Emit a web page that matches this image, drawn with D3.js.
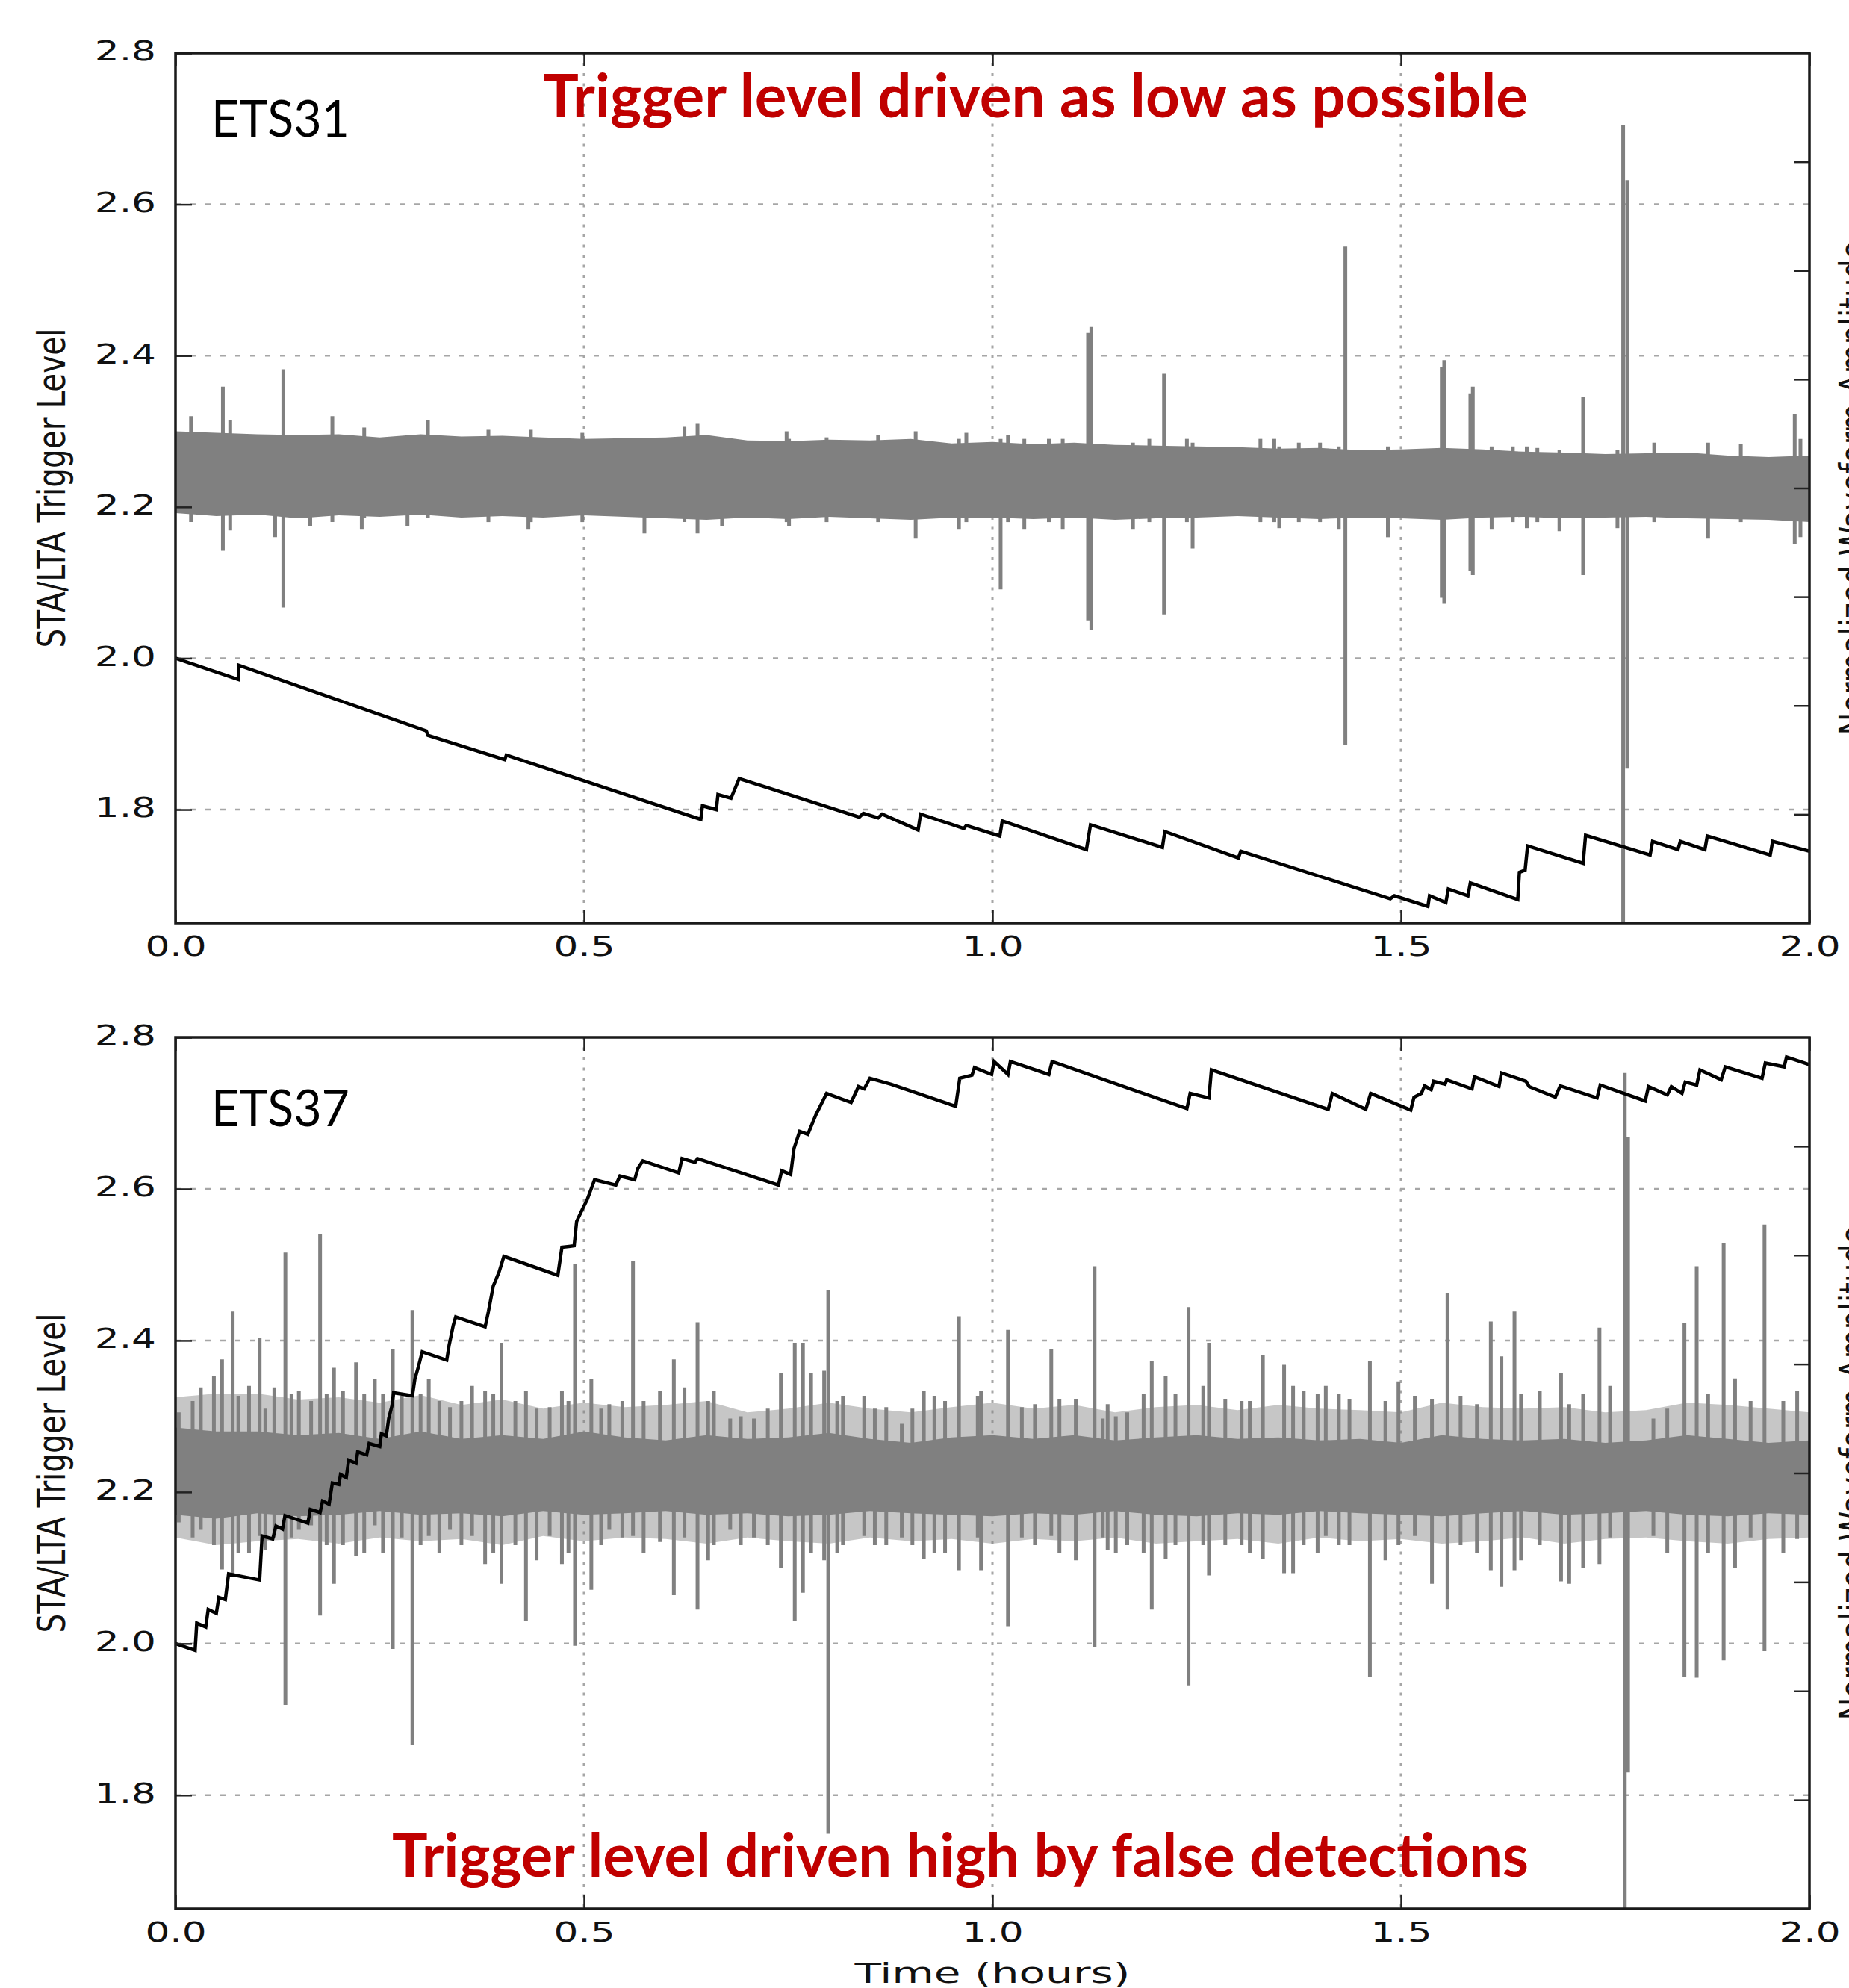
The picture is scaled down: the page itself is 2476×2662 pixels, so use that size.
<!DOCTYPE html>
<html>
<head>
<meta charset="utf-8">
<style>
  body { margin: 0; background: #fff; }
  svg { display: block; background: #fff; }
  .tick text { font-family: "DejaVu Sans", sans-serif; font-size: 38px; fill: #111; }
  .tick line { stroke: #222; stroke-width: 2.5; }
  .grid-h { stroke: #a6a6a6; stroke-width: 2.5; stroke-dasharray: 7 13; }
  .grid-v { stroke: #a6a6a6; stroke-width: 3; stroke-dasharray: 4 9.5; }
  .frame { fill: none; stroke: #1a1a1a; stroke-width: 3.5; }
  .wave { fill: #808080; }
  .fuzz { fill: #808080; fill-opacity: 0.45; }
  .spike { stroke: #808080; stroke-width: 5; }
  .trigger { fill: none; stroke: #000; stroke-width: 4.5; stroke-linejoin: miter; }
  .note { font-family: Lato, "Open Sans", sans-serif; font-weight: bold; fill: #c00000; font-size: 80px; }
  .station { font-family: Lato, "Open Sans", sans-serif; font-size: 68px; fill: #000; }
  .axlabel { font-family: "DejaVu Sans", sans-serif; font-size: 38px; fill: #111; }
</style>
</head>
<body>
<svg width="2476" height="2662"></svg>
<script src="https://d3js.org/d3.v7.min.js"></script>
<script>

// axis ticks
var xTicks = [0.0, 0.5, 1.0, 1.5, 2.0];
var yTicks = [1.8, 2.0, 2.2, 2.4, 2.6, 2.8];
var ampTicks = [-0.75, -0.5, -0.25, 0, 0.25, 0.5, 0.75];

// times where the waveform envelope was read (hours)
var bandTime = [0, 0.05, 0.1, 0.15, 0.2, 0.25, 0.3, 0.35, 0.4, 0.45, 0.5, 0.55, 0.6, 0.65, 0.7, 0.75, 0.8,
  0.85, 0.9, 0.95, 1.0, 1.05, 1.1, 1.15, 1.2, 1.25, 1.3, 1.35, 1.4, 1.45, 1.5, 1.55, 1.6, 1.65, 1.7,
  1.75, 1.8, 1.85, 1.9, 1.95, 2.0];

// ETS31 waveform envelope (upper / lower edge of the solid noise band)
var ets31Hi = [2.300, 2.298, 2.296, 2.295, 2.296, 2.292, 2.296, 2.293, 2.294, 2.292, 2.290, 2.291, 2.292,
  2.295, 2.288, 2.287, 2.289, 2.288, 2.290, 2.284, 2.286, 2.283, 2.285, 2.282, 2.281, 2.280, 2.279, 2.277,
  2.278, 2.275, 2.276, 2.278, 2.276, 2.273, 2.272, 2.270, 2.271, 2.272, 2.268, 2.266, 2.268];
var ets31Lo = [2.192, 2.188, 2.190, 2.185, 2.189, 2.187, 2.190, 2.186, 2.188, 2.186, 2.189, 2.187, 2.185,
  2.183, 2.186, 2.184, 2.187, 2.185, 2.183, 2.186, 2.186, 2.184, 2.186, 2.183, 2.185, 2.186, 2.188, 2.186,
  2.184, 2.186, 2.185, 2.183, 2.186, 2.187, 2.185, 2.186, 2.187, 2.185, 2.184, 2.183, 2.180];

// ETS31 spikes: [time, top, bottom]
var ets31Spikes = [
  [0.019, 2.320, 2.180], [0.058, 2.359, 2.142], [0.067, 2.315, 2.169], [0.122, 2.290, 2.160],
  [0.132, 2.382, 2.067], [0.165, 2.295, 2.175], [0.192, 2.320, 2.180], [0.228, 2.290, 2.170],
  [0.231, 2.305, 2.185], [0.284, 2.290, 2.175], [0.309, 2.315, 2.185], [0.383, 2.302, 2.180],
  [0.432, 2.290, 2.170], [0.435, 2.302, 2.180], [0.498, 2.298, 2.180], [0.574, 2.290, 2.165],
  [0.623, 2.306, 2.180], [0.639, 2.310, 2.165], [0.669, 2.290, 2.175], [0.748, 2.300, 2.180],
  [0.751, 2.290, 2.175], [0.797, 2.292, 2.180], [0.860, 2.295, 2.180], [0.906, 2.300, 2.158],
  [0.959, 2.290, 2.170], [0.968, 2.298, 2.180], [1.010, 2.290, 2.091], [1.019, 2.295, 2.180],
  [1.039, 2.290, 2.170], [1.069, 2.290, 2.180], [1.086, 2.290, 2.170], [1.117, 2.430, 2.050],
  [1.121, 2.438, 2.037], [1.172, 2.285, 2.170], [1.192, 2.290, 2.180], [1.210, 2.376, 2.058],
  [1.238, 2.290, 2.180], [1.245, 2.285, 2.145], [1.328, 2.290, 2.180], [1.345, 2.290, 2.180],
  [1.351, 2.280, 2.172], [1.375, 2.285, 2.180], [1.401, 2.285, 2.180], [1.424, 2.280, 2.170],
  [1.432, 2.544, 1.885], [1.484, 2.280, 2.160], [1.550, 2.385, 2.080], [1.553, 2.394, 2.072],
  [1.585, 2.350, 2.115], [1.588, 2.359, 2.110], [1.611, 2.280, 2.170], [1.637, 2.280, 2.180],
  [1.654, 2.280, 2.172], [1.667, 2.278, 2.180], [1.694, 2.275, 2.168], [1.723, 2.345, 2.110],
  [1.765, 2.275, 2.172], [1.772, 2.705, 1.650], [1.777, 2.632, 1.854], [1.810, 2.285, 2.180],
  [1.876, 2.285, 2.158], [1.916, 2.283, 2.180], [1.982, 2.323, 2.151], [1.989, 2.290, 2.160]
];

// ETS31 STA/LTA trigger level: [time, level]
var ets31Trigger = [
  [0, 2.000], [0.077, 1.972], [0.077, 1.991], [0.307, 1.904], [0.309, 1.898], [0.403, 1.866],
  [0.405, 1.872], [0.643, 1.787], [0.645, 1.805], [0.662, 1.800], [0.664, 1.820], [0.680, 1.815],
  [0.690, 1.841], [0.837, 1.790], [0.842, 1.795], [0.860, 1.789], [0.865, 1.794], [0.909, 1.773],
  [0.912, 1.794], [0.965, 1.775], [0.968, 1.779], [1.009, 1.765], [1.012, 1.785], [1.115, 1.747],
  [1.120, 1.780], [1.208, 1.750], [1.211, 1.771], [1.301, 1.736], [1.304, 1.745], [1.487, 1.682],
  [1.492, 1.686], [1.533, 1.672], [1.535, 1.686], [1.555, 1.677], [1.558, 1.695], [1.582, 1.686],
  [1.585, 1.703], [1.643, 1.681], [1.645, 1.717], [1.652, 1.720], [1.655, 1.752], [1.723, 1.729],
  [1.726, 1.766], [1.805, 1.740], [1.808, 1.758], [1.839, 1.747], [1.842, 1.758], [1.872, 1.747],
  [1.875, 1.765], [1.952, 1.740], [1.955, 1.758], [2.0, 1.745]
];

// ETS37 waveform envelope (solid core)
var ets37Hi = [2.285, 2.280, 2.280, 2.275, 2.278, 2.270, 2.280, 2.270, 2.275, 2.270, 2.280, 2.272, 2.268,
  2.275, 2.270, 2.272, 2.278, 2.270, 2.265, 2.272, 2.275, 2.270, 2.275, 2.268, 2.272, 2.275, 2.270, 2.272,
  2.268, 2.270, 2.265, 2.275, 2.270, 2.268, 2.270, 2.265, 2.268, 2.275, 2.270, 2.265, 2.268];
var ets37Lo = [2.170, 2.165, 2.172, 2.168, 2.170, 2.175, 2.170, 2.172, 2.168, 2.175, 2.170, 2.172, 2.175,
  2.170, 2.172, 2.168, 2.170, 2.175, 2.172, 2.170, 2.168, 2.172, 2.170, 2.175, 2.170, 2.168, 2.172, 2.170,
  2.175, 2.172, 2.170, 2.168, 2.172, 2.175, 2.170, 2.172, 2.175, 2.170, 2.168, 2.172, 2.170];
// ETS37 dense fringe of small detections around the core
var ets37FuzzHi = [2.325, 2.330, 2.330, 2.322, 2.325, 2.318, 2.328, 2.315, 2.322, 2.310, 2.318, 2.312, 2.315,
  2.320, 2.305, 2.310, 2.318, 2.310, 2.305, 2.312, 2.318, 2.310, 2.315, 2.305, 2.312, 2.315, 2.308, 2.315,
  2.310, 2.308, 2.305, 2.318, 2.312, 2.310, 2.312, 2.305, 2.308, 2.318, 2.315, 2.310, 2.305];
var ets37FuzzLo = [2.140, 2.130, 2.135, 2.138, 2.132, 2.140, 2.135, 2.138, 2.130, 2.142, 2.135, 2.140, 2.138,
  2.132, 2.140, 2.135, 2.132, 2.140, 2.135, 2.138, 2.132, 2.138, 2.135, 2.140, 2.132, 2.135, 2.138, 2.132,
  2.140, 2.135, 2.138, 2.132, 2.135, 2.140, 2.132, 2.138, 2.140, 2.135, 2.132, 2.138, 2.140];

// ETS37 spikes: [time, top, bottom]
var ets37Spikes = [
  [0.004, 2.305, 2.160], [0.021, 2.320, 2.140], [0.031, 2.338, 2.150], [0.047, 2.353, 2.130],
  [0.057, 2.375, 2.098], [0.070, 2.438, 2.090], [0.077, 2.327, 2.119], [0.090, 2.340, 2.120],
  [0.103, 2.403, 2.142], [0.110, 2.310, 2.123], [0.121, 2.338, 2.140], [0.1345, 2.516, 1.919],
  [0.142, 2.330, 2.140], [0.151, 2.334, 2.150], [0.166, 2.320, 2.156], [0.177, 2.540, 2.037],
  [0.185, 2.330, 2.130], [0.194, 2.364, 2.079], [0.205, 2.334, 2.130], [0.221, 2.371, 2.116],
  [0.231, 2.330, 2.120], [0.244, 2.349, 2.156], [0.254, 2.330, 2.120], [0.266, 2.388, 1.993],
  [0.277, 2.327, 2.140], [0.290, 2.440, 1.866], [0.300, 2.330, 2.130], [0.310, 2.349, 2.142],
  [0.323, 2.320, 2.120], [0.336, 2.312, 2.150], [0.350, 2.320, 2.130], [0.363, 2.340, 2.142],
  [0.379, 2.334, 2.105], [0.389, 2.330, 2.120], [0.399, 2.397, 2.079], [0.416, 2.320, 2.130],
  [0.429, 2.334, 2.030], [0.442, 2.310, 2.110], [0.458, 2.312, 2.142], [0.473, 2.334, 2.105],
  [0.481, 2.320, 2.120], [0.489, 2.501, 1.997], [0.509, 2.349, 2.071], [0.521, 2.310, 2.130],
  [0.531, 2.316, 2.150], [0.547, 2.320, 2.140], [0.560, 2.505, 2.142], [0.573, 2.320, 2.120],
  [0.593, 2.334, 2.134], [0.610, 2.375, 2.064], [0.623, 2.338, 2.140], [0.639, 2.424, 2.045],
  [0.652, 2.320, 2.110], [0.659, 2.334, 2.130], [0.679, 2.297, 2.150], [0.692, 2.300, 2.130],
  [0.708, 2.297, 2.140], [0.725, 2.310, 2.130], [0.741, 2.357, 2.100], [0.758, 2.397, 2.030],
  [0.768, 2.397, 2.067], [0.778, 2.357, 2.120], [0.794, 2.360, 2.110], [0.799, 2.466, 1.749],
  [0.810, 2.320, 2.120], [0.817, 2.327, 2.130], [0.843, 2.327, 2.142], [0.856, 2.310, 2.130],
  [0.870, 2.312, 2.130], [0.889, 2.290, 2.140], [0.902, 2.310, 2.130], [0.916, 2.334, 2.112],
  [0.929, 2.327, 2.120], [0.942, 2.320, 2.120], [0.959, 2.432, 2.097], [0.982, 2.327, 2.140],
  [0.986, 2.334, 2.097], [1.019, 2.414, 2.023], [1.036, 2.312, 2.140], [1.052, 2.316, 2.130],
  [1.072, 2.389, 2.142], [1.082, 2.323, 2.120], [1.102, 2.323, 2.110], [1.125, 2.498, 1.996],
  [1.135, 2.297, 2.140], [1.141, 2.316, 2.123], [1.151, 2.300, 2.120], [1.165, 2.305, 2.130],
  [1.185, 2.330, 2.120], [1.195, 2.373, 2.045], [1.212, 2.353, 2.112], [1.224, 2.330, 2.130],
  [1.240, 2.444, 1.945], [1.258, 2.340, 2.130], [1.265, 2.397, 2.090], [1.285, 2.323, 2.130],
  [1.305, 2.320, 2.130], [1.315, 2.320, 2.120], [1.331, 2.381, 2.112], [1.357, 2.368, 2.093],
  [1.368, 2.340, 2.093], [1.381, 2.334, 2.130], [1.398, 2.330, 2.120], [1.408, 2.340, 2.142],
  [1.424, 2.330, 2.130], [1.437, 2.323, 2.130], [1.462, 2.373, 1.956], [1.481, 2.320, 2.110],
  [1.497, 2.346, 2.130], [1.517, 2.327, 2.142], [1.538, 2.323, 2.079], [1.557, 2.462, 2.045],
  [1.573, 2.327, 2.130], [1.593, 2.316, 2.120], [1.610, 2.425, 2.097], [1.623, 2.379, 2.075],
  [1.639, 2.438, 2.097], [1.647, 2.330, 2.110], [1.670, 2.334, 2.130], [1.696, 2.357, 2.082],
  [1.706, 2.316, 2.079], [1.723, 2.330, 2.100], [1.743, 2.417, 2.105], [1.756, 2.340, 2.140],
  [1.774, 2.753, 1.650], [1.778, 2.668, 1.830], [1.809, 2.297, 2.142], [1.826, 2.310, 2.120],
  [1.847, 2.423, 1.956], [1.862, 2.498, 1.955], [1.876, 2.330, 2.120], [1.895, 2.529, 1.978],
  [1.909, 2.350, 2.100], [1.928, 2.320, 2.140], [1.945, 2.553, 1.990], [1.968, 2.320, 2.120],
  [1.985, 2.334, 2.138]
];

// ETS37 STA/LTA trigger level: [time, level]
var ets37Trigger = [
  [0, 2.000], [0.024, 1.991], [0.026, 2.027], [0.037, 2.022], [0.040, 2.045], [0.050, 2.040],
  [0.053, 2.061], [0.061, 2.058], [0.065, 2.092], [0.103, 2.084], [0.106, 2.142], [0.119, 2.138],
  [0.123, 2.155], [0.131, 2.151], [0.134, 2.169], [0.162, 2.159], [0.165, 2.177], [0.177, 2.173],
  [0.180, 2.188], [0.188, 2.184], [0.192, 2.212], [0.200, 2.210], [0.202, 2.223], [0.209, 2.219],
  [0.212, 2.242], [0.221, 2.238], [0.223, 2.253], [0.234, 2.249], [0.237, 2.264], [0.250, 2.260],
  [0.252, 2.277], [0.258, 2.274], [0.261, 2.297], [0.265, 2.314], [0.267, 2.331], [0.290, 2.327],
  [0.293, 2.349], [0.297, 2.364], [0.302, 2.385], [0.332, 2.374], [0.335, 2.394], [0.340, 2.420],
  [0.343, 2.431], [0.379, 2.418], [0.383, 2.438], [0.389, 2.472], [0.396, 2.490], [0.402, 2.511],
  [0.468, 2.486], [0.473, 2.523], [0.488, 2.525], [0.491, 2.557], [0.498, 2.573], [0.504, 2.586],
  [0.513, 2.612], [0.539, 2.605], [0.544, 2.617], [0.562, 2.612], [0.566, 2.627], [0.572, 2.637],
  [0.616, 2.621], [0.620, 2.640], [0.636, 2.635], [0.639, 2.640], [0.738, 2.605], [0.742, 2.624],
  [0.753, 2.619], [0.757, 2.653], [0.764, 2.676], [0.774, 2.672], [0.784, 2.698], [0.797, 2.726],
  [0.827, 2.714], [0.836, 2.735], [0.843, 2.732], [0.850, 2.746], [0.876, 2.738], [0.955, 2.709],
  [0.960, 2.746], [0.975, 2.750], [0.978, 2.760], [0.999, 2.751], [1.002, 2.768], [1.019, 2.751],
  [1.022, 2.768], [1.069, 2.751], [1.073, 2.768], [1.238, 2.706], [1.242, 2.726], [1.265, 2.720],
  [1.268, 2.757], [1.411, 2.705], [1.416, 2.726], [1.457, 2.705], [1.463, 2.726], [1.512, 2.704],
  [1.516, 2.721], [1.525, 2.726], [1.529, 2.736], [1.537, 2.731], [1.540, 2.742], [1.554, 2.738],
  [1.556, 2.744], [1.587, 2.732], [1.590, 2.748], [1.620, 2.735], [1.623, 2.753], [1.653, 2.742],
  [1.657, 2.735], [1.689, 2.721], [1.695, 2.736], [1.740, 2.720], [1.744, 2.737], [1.799, 2.716],
  [1.803, 2.735], [1.826, 2.724], [1.831, 2.735], [1.844, 2.726], [1.848, 2.741], [1.862, 2.737],
  [1.866, 2.757], [1.892, 2.744], [1.897, 2.761], [1.942, 2.746], [1.946, 2.766], [1.969, 2.761],
  [1.972, 2.774], [2.0, 2.764]
];

var left = 235, right = 2423;
var width = right - left;
var labelStretch = 1.36;   // the figure was stretched sideways when pasted

var svg = d3.select("svg");
var x = d3.scaleLinear().domain([0, 2]).range([0, width]);

function drawPanel(id, top, bottom, hi, lo, fuzzHi, fuzzLo, spikes, trigger) {
  var height = bottom - top;
  var y = d3.scaleLinear().domain([1.65, 2.8]).range([height, 0]);
  var amp = d3.scaleLinear().domain([-1, 1]).range([height, 0]);

  var g = svg.append("g").attr("transform", "translate(" + left + "," + top + ")");

  g.append("clipPath").attr("id", "clip" + id)
    .append("rect").attr("width", width).attr("height", height);

  // dotted grid
  g.selectAll(".grid-h").data(yTicks.filter(function(d) { return d < 2.8; }))
    .enter().append("line").attr("class", "grid-h")
    .attr("x1", 0).attr("x2", width)
    .attr("y1", function(d) { return y(d); }).attr("y2", function(d) { return y(d); });
  g.selectAll(".grid-v").data(xTicks.filter(function(d) { return d > 0 && d < 2; }))
    .enter().append("line").attr("class", "grid-v")
    .attr("y1", 0).attr("y2", height)
    .attr("x1", function(d) { return x(d); }).attr("x2", function(d) { return x(d); });

  var plot = g.append("g").attr("clip-path", "url(#clip" + id + ")");

  // waveform: fringe (if any), solid core, then the spikes
  var area = d3.area()
    .x(function(d) { return x(d.t); })
    .y0(function(d) { return y(d.lo); })
    .y1(function(d) { return y(d.hi); });
  if (fuzzHi) {
    var fringe = bandTime.map(function(t, i) { return {t: t, hi: fuzzHi[i], lo: fuzzLo[i]}; });
    plot.append("path").attr("class", "fuzz").attr("d", area(fringe));
  }
  var band = bandTime.map(function(t, i) { return {t: t, hi: hi[i], lo: lo[i]}; });
  plot.append("path").attr("class", "wave").attr("d", area(band));

  plot.selectAll(".spike").data(spikes).enter().append("line")
    .attr("class", "spike")
    .attr("x1", function(d) { return x(d[0]); }).attr("x2", function(d) { return x(d[0]); })
    .attr("y1", function(d) { return y(d[1]); }).attr("y2", function(d) { return y(d[2]); });

  // trigger level
  var line = d3.line()
    .x(function(d) { return x(d[0]); })
    .y(function(d) { return y(d[1]); });
  plot.append("path").attr("class", "trigger").attr("d", line(trigger));

  // axes, ticks pointing inwards
  var ax = g.append("g").attr("transform", "translate(0," + height + ")")
    .call(d3.axisBottom(x).tickValues(xTicks).tickSize(-18).tickSizeOuter(0).tickPadding(17)
      .tickFormat(d3.format(".1f")));
  ax.select(".domain").remove();
  ax.selectAll("text").attr("transform", "scale(" + labelStretch + ",1)");

  var axTop = g.append("g")
    .call(d3.axisTop(x).tickValues(xTicks).tickSize(-18).tickSizeOuter(0).tickFormat(""));
  axTop.select(".domain").remove();

  var ay = g.append("g")
    .call(d3.axisLeft(y).tickValues(yTicks).tickSize(-22).tickSizeOuter(0)
      .tickFormat(d3.format(".1f")));
  ay.select(".domain").remove();
  ay.selectAll("text")
    .attr("x", -26 / labelStretch).attr("dy", "0.26em")
    .attr("transform", "scale(" + labelStretch + ",1)");

  var ar = g.append("g").attr("transform", "translate(" + width + ",0)")
    .call(d3.axisRight(amp).tickValues(ampTicks).tickSize(-20).tickSizeOuter(0).tickFormat(""));
  ar.select(".domain").remove();

  g.append("rect").attr("class", "frame").attr("width", width).attr("height", height);

  // axis titles (the right one runs off the page, as in the original)
  var mid = top + height / 2;
  svg.append("text").attr("class", "axlabel")
    .attr("transform", "translate(87," + mid + ") scale(" + labelStretch + ",1) rotate(-90)")
    .attr("text-anchor", "middle").attr("textLength", 428).attr("lengthAdjust", "spacingAndGlyphs")
    .text("STA/LTA Trigger Level");
  svg.append("text").attr("class", "axlabel")
    .attr("transform", "translate(2500," + mid + ") scale(" + labelStretch + ",1) rotate(-90)")
    .attr("text-anchor", "middle").attr("textLength", 662).attr("lengthAdjust", "spacingAndGlyphs")
    .text("Normalized Waveform Amplitude");
}

drawPanel(1, 71, 1236, ets31Hi, ets31Lo, null, null, ets31Spikes, ets31Trigger);
drawPanel(2, 1389, 2556, ets37Hi, ets37Lo, ets37FuzzHi, ets37FuzzLo, ets37Spikes, ets37Trigger);

// station names
svg.append("text").attr("class", "station").attr("x", 283).attr("y", 183)
  .attr("textLength", 185).attr("lengthAdjust", "spacingAndGlyphs").text("ETS31");
svg.append("text").attr("class", "station").attr("x", 283).attr("y", 1508)
  .attr("textLength", 185).attr("lengthAdjust", "spacingAndGlyphs").text("ETS37");

// annotations
svg.append("text").attr("class", "note").attr("x", 727).attr("y", 157)
  .attr("textLength", 1319).attr("lengthAdjust", "spacingAndGlyphs")
  .text("Trigger level driven as low as possible");
svg.append("text").attr("class", "note").attr("x", 525).attr("y", 2513)
  .attr("textLength", 1522).attr("lengthAdjust", "spacingAndGlyphs")
  .text("Trigger level driven high by false detections");

svg.append("text").attr("class", "axlabel")
  .attr("x", left + x(1)).attr("y", 2655).attr("text-anchor", "middle")
  .attr("textLength", 369).attr("lengthAdjust", "spacingAndGlyphs")
  .text("Time (hours)");

</script>
</body>
</html>
